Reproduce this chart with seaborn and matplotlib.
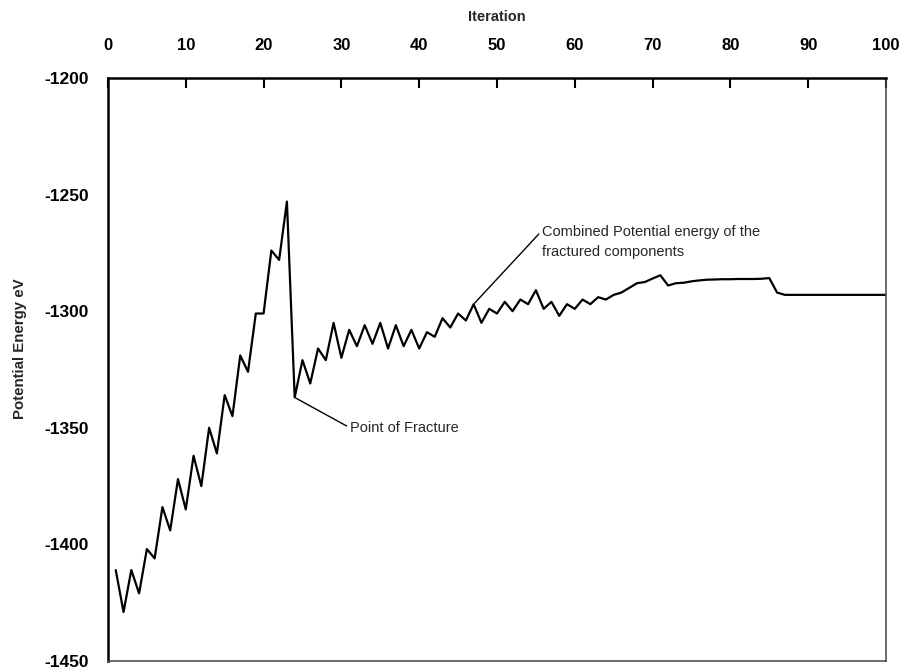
import matplotlib
matplotlib.use("Agg")
import matplotlib.pyplot as plt
import numpy as np
import pandas as pd
import seaborn as sns

# Potential energy (eV) recorded at each iteration of the simulation
iterations = list(range(1, 101))
energy = [
    -1411, -1429, -1411, -1421, -1402, -1406, -1384, -1394, -1372, -1385,
    -1362, -1375, -1350, -1361, -1336, -1345, -1319, -1326, -1301, -1301,
    -1274, -1278, -1253, -1337, -1321, -1331, -1316, -1321, -1305, -1320,
    -1308, -1315, -1306, -1314, -1305, -1316, -1306, -1315, -1308, -1316,
    -1309, -1311, -1303, -1307, -1301, -1304, -1297, -1305, -1299, -1301,
    -1296, -1300, -1295, -1297, -1291, -1299, -1296, -1302, -1297, -1299,
    -1295, -1297, -1294, -1295, -1293, -1292, -1290, -1288, -1287.5, -1286,
    -1284.6, -1289, -1288, -1287.8, -1287.2, -1286.8, -1286.5, -1286.4, -1286.3, -1286.3,
    -1286.2, -1286.2, -1286.2, -1286.1, -1285.8, -1292, -1293, -1293, -1293, -1293,
    -1293, -1293, -1293, -1293, -1293, -1293, -1293, -1293, -1293, -1293,
]

x_ticks = list(range(0, 101, 10))
y_ticks = [-1450, -1400, -1350, -1300, -1250, -1200]

fracture_iter = 24
combined_iter = 47

sns.set_style("white")
plt.rcParams["font.family"] = ["Liberation Sans", "DejaVu Sans"]
plt.rcParams["axes.unicode_minus"] = False

df = pd.DataFrame({"Iteration": iterations, "Potential Energy eV": energy})

fig = plt.figure(figsize=(9.05, 6.71), dpi=100)
ax = fig.add_axes([0.1193, 0.0149, 0.8597, 0.8689])

sns.lineplot(data=df, x="Iteration", y="Potential Energy eV", ax=ax,
             color="black", linewidth=1.6, solid_joinstyle="round")

ax.set_xlim(0, 100)
ax.set_ylim(-1450, -1200)
ax.set_xticks(x_ticks)
ax.set_yticks(y_ticks)

# x axis lives along the top edge
ax.xaxis.tick_top()
ax.xaxis.set_label_position("top")
ax.set_xlabel("Iteration", fontsize=10.5, fontweight="bold", labelpad=12)
ax.set_ylabel("Potential Energy eV", fontsize=10.8, fontweight="bold")
ax.yaxis.set_label_coords(-0.104, 0.535)

ax.tick_params(axis="x", direction="in", length=7, width=1.5, pad=18,
               labelsize=12, colors="black")
ax.tick_params(axis="y", direction="out", length=4, width=1.5, pad=10,
               labelsize=12.5, colors="black")
for lbl in ax.get_xticklabels() + ax.get_yticklabels():
    lbl.set_fontweight("bold")

for side in ("top", "left"):
    ax.spines[side].set_color("black")
    ax.spines[side].set_linewidth(1.8)
for side in ("right", "bottom"):
    ax.spines[side].set_color("#444444")
    ax.spines[side].set_linewidth(1.1)
    ax.spines[side].set_visible(True)

ax.annotate("Point of Fracture",
            xy=(fracture_iter, energy[fracture_iter - 1]),
            xytext=(31.1, -1350), ha="left", va="center", fontsize=10.5,
            arrowprops=dict(arrowstyle="-", color="black", lw=1.0,
                            relpos=(0, 0.5), shrinkA=0, shrinkB=1))

ax.annotate("Combined Potential energy of the\nfractured components",
            xy=(combined_iter, energy[combined_iter - 1]),
            xytext=(55.8, -1270.5), ha="left", va="center", fontsize=10.5,
            linespacing=1.55,
            arrowprops=dict(arrowstyle="-", color="black", lw=1.0,
                            relpos=(0, 0.85), shrinkA=0, shrinkB=1))

fig.savefig("out.png", dpi=100)
